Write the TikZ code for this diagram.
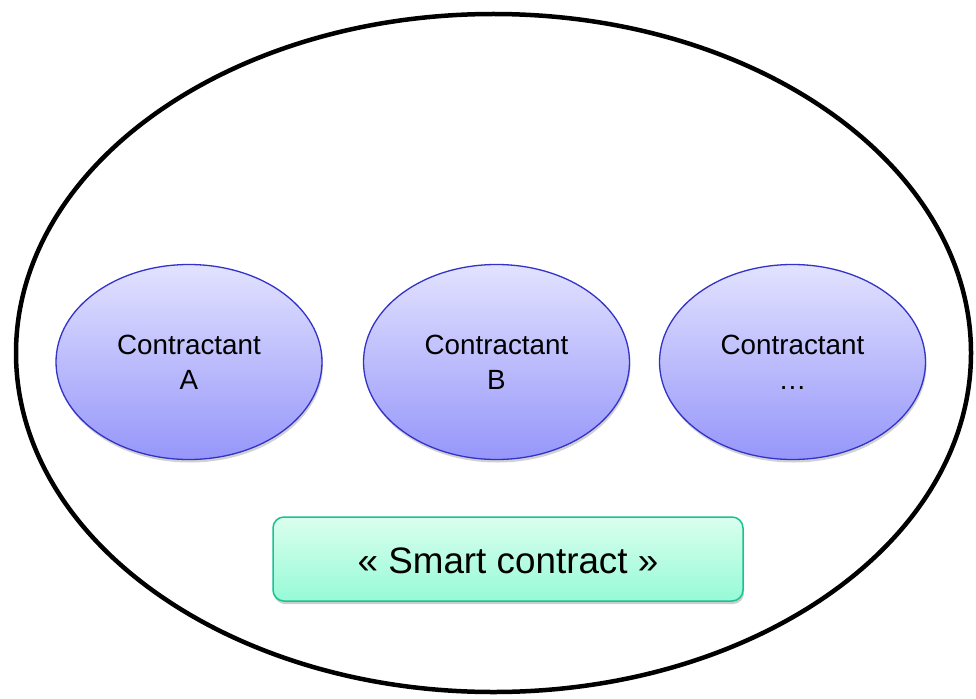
\documentclass[tikz,border=0pt]{standalone}
\usepackage{fontspec}
\setmainfont{Liberation Sans}
\usetikzlibrary{shapes.geometric,shadows}
\definecolor{ellborder}{RGB}{50,50,200}
\definecolor{elltop}{RGB}{226,226,255}
\definecolor{ellbot}{RGB}{150,150,250}
\definecolor{boxborder}{RGB}{25,195,145}
\definecolor{boxtop}{RGB}{218,255,238}
\definecolor{boxbot}{RGB}{150,250,215}
\tikzset{
  outer/.style={ellipse, draw=black, line width=4.5pt, inner sep=0pt,
    minimum width=955pt, minimum height=678pt},
  party/.style={ellipse, draw=ellborder, line width=1.3pt, inner sep=0pt,
    minimum width=266pt, minimum height=195pt, top color=elltop, bottom color=ellbot,
    align=center, font=\fontsize{27.8}{35}\selectfont,
    drop shadow={shadow xshift=1pt, shadow yshift=-3pt, opacity=0.18, fill=black}},
  contractbox/.style={rectangle, rounded corners=11pt, draw=boxborder, line width=1.5pt,
    minimum width=470pt, minimum height=84pt, inner sep=0pt,
    top color=boxtop, bottom color=boxbot,
    drop shadow={shadow xshift=1pt, shadow yshift=-3pt, opacity=0.2, fill=black}},
  bigtext/.style={font=\fontsize{36.8}{44}\selectfont, inner sep=0pt}
}
\begin{document}
\begin{tikzpicture}[x=1pt,y=-1pt]
\useasboundingbox (0,0) rectangle (976,698);
\fill[white] (0,0) rectangle (976,698);
\node[outer] (world) at (493.5,353) {};
\node[party] (a) at (189,362) {Contractant\\A};
\node[party] (b) at (496.5,362) {Contractant\\B};
\node[party] (c) at (792.5,362) {Contractant\\…};
\node[contractbox] (sc) at (508,559) {};
\node[bigtext] (sctext) at ([yshift=-2pt]sc.center) {«~Smart contract~»};
\end{tikzpicture}
\end{document}
